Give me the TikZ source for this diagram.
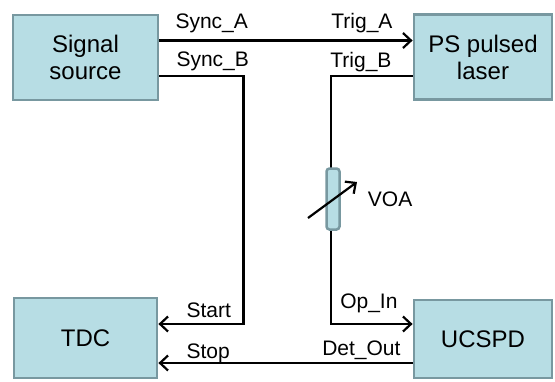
\documentclass[tikz,border=0pt]{standalone}
\usepackage{fontspec}
\setmainfont{Liberation Sans}
\usetikzlibrary{%
    arrows.meta,%
    positioning
    }
\definecolor{unitfill}{RGB}{183,221,228}
\definecolor{unitdraw}{RGB}{120,152,160}
\tikzset{
  unit/.style={
    rectangle,
    draw=unitdraw,
    line width=2.8pt,
    fill=unitfill,
    align=center,
    inner sep=0pt,
    font=\fontsize{24}{27}\selectfont,
  },
  voa/.style={
    rectangle,
    rounded corners=3pt,
    minimum width=13pt,
    minimum height=61pt,
    draw=unitdraw,
    line width=2.5pt,
    fill=unitfill,
  },
  lbl/.style={
    inner sep=0pt,
    font=\fontsize{21}{24}\selectfont,
  },
  wire/.style={
    line width=2.2pt,
    black,
  },
  link/.style={
    wire,
    -{Straight Barb[length=8pt,width=15pt,line width=2.2pt]},
  },
}

\begin{document}
\begin{tikzpicture}[x=1pt,y=-1pt]
\useasboundingbox (0,0) rectangle (555,381);

\node[unit,minimum width=145pt,minimum height=85pt]
  (src) at (85.5,57.5)
  {Signal\\source};
\node[unit,minimum width=138pt,minimum height=85pt]
  (laser) at (483,57)
  {PS pulsed\\laser};
\node[unit,minimum width=143pt,minimum height=80pt]
  (tdc) at (85.5,338)
  {TDC};
\node[unit,minimum width=138pt,minimum height=78pt]
  (det) at (483,339)
  {UCSPD};

% signal source to laser
\draw[link]
  ([yshift=17pt]src.east)
    node[lbl,anchor=base west,xshift=15pt,yshift=12pt] {Sync\_A}
  -- ([yshift=17pt]src.east -| laser.west)
    node[lbl,anchor=base east,xshift=-19pt,yshift=12pt] {Trig\_A};

% signal source to TDC
\draw[link]
  ([yshift=-18.5pt]src.east)
    node[lbl,anchor=base west,xshift=16pt,yshift=10pt] {Sync\_B}
  -| ([xshift=85pt,yshift=14pt]tdc.east)
  -- ([yshift=14pt]tdc.east)
    node[lbl,anchor=base west,xshift=27pt,yshift=7pt] {Start};

% laser through VOA to UCSPD
\draw[link]
  ([yshift=-19pt]laser.west)
    node[lbl,anchor=base east,xshift=-20pt,yshift=9pt] {Trig\_B}
  -| ([xshift=-82pt,yshift=15pt]det.west)
  -- ([yshift=15pt]det.west)
    node[lbl,anchor=base east,xshift=-14pt,yshift=16pt] {Op\_In};

% UCSPD to TDC
\draw[link]
  ([yshift=-24pt]det.west)
    node[lbl,anchor=base east,xshift=-11pt,yshift=8pt] {Det\_Out}
  -- ([yshift=-24pt]det.west -| tdc.east)
    node[lbl,anchor=base west,xshift=27pt,yshift=5pt] {Stop};

\node[voa] (voa) at (333,199) {};
\node[lbl,right=27pt of voa] (voalbl) {VOA};
\draw[link]
  ([shift={(-25,19)}]voa.center) -- ([shift={(24,-17)}]voa.center);
\end{tikzpicture}
\end{document}
